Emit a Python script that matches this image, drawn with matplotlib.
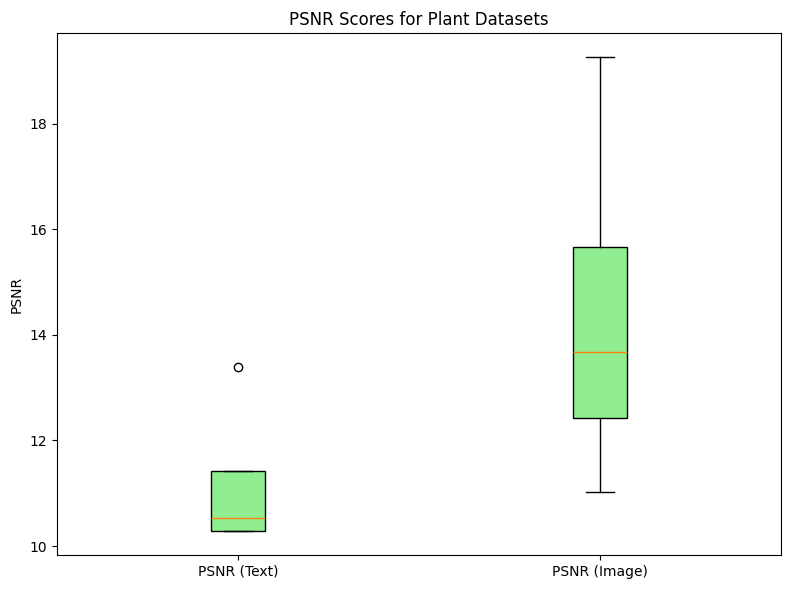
import matplotlib
matplotlib.use("Agg")
import matplotlib.pyplot as plt

labels = ["PSNR (Text)", "PSNR (Image)"]
whislo = [10.28, 11.02]
q1 = [10.28, 12.42]
med = [10.53, 13.67]
q3 = [11.43, 15.67]
whishi = [11.43, 19.27]
fliers = [[13.40], []]

stats = []
for i in range(len(labels)):
    stats.append(dict(label=labels[i], whislo=whislo[i], q1=q1[i], med=med[i],
                      q3=q3[i], whishi=whishi[i], fliers=fliers[i]))

fig, ax = plt.subplots(figsize=(7.9, 5.9), dpi=100)
bp = ax.bxp(stats, patch_artist=True)
for b in bp["boxes"]:
    b.set_facecolor("lightgreen")
ax.set_title("PSNR Scores for Plant Datasets")
ax.set_ylabel("PSNR")
fig.subplots_adjust(left=57/790, right=781/790, top=1-33/590, bottom=1-555/590)
fig.savefig("out.png")
